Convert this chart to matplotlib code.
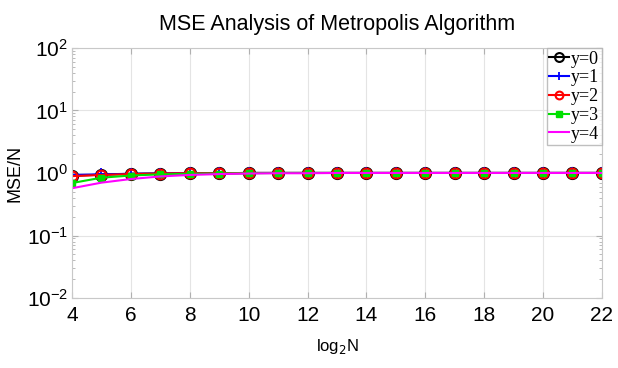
import matplotlib
matplotlib.use("Agg")
import matplotlib.pyplot as plt
from matplotlib.ticker import LogLocator, NullFormatter

plt.rcParams['font.family'] = ['Liberation Sans', 'DejaVu Sans']

# log2 of sample count
log2_n = list(range(4, 23))

# MSE/N for each y value
mse_y0 = [0.90, 0.94, 0.97, 0.98, 0.99, 0.99, 1.0, 1.0, 1.0, 1.0, 1.0, 1.0, 1.0, 1.0, 1.0, 1.0, 1.0, 1.0, 1.0]
mse_y1 = [0.93, 0.95, 0.97, 0.98, 0.99, 0.99, 1.0, 1.0, 1.0, 1.0, 1.0, 1.0, 1.0, 1.0, 1.0, 1.0, 1.0, 1.0, 1.0]
mse_y2 = [0.89, 0.93, 0.96, 0.98, 0.99, 0.99, 1.0, 1.0, 1.0, 1.0, 1.0, 1.0, 1.0, 1.0, 1.0, 1.0, 1.0, 1.0, 1.0]
mse_y3 = [0.69, 0.84, 0.91, 0.95, 0.97, 0.98, 0.99, 1.0, 1.0, 1.0, 1.0, 1.0, 1.0, 1.0, 1.0, 1.0, 1.0, 1.0, 1.0]
mse_y4 = [0.57, 0.70, 0.80, 0.88, 0.93, 0.96, 0.98, 0.99, 0.99, 1.0, 1.0, 1.0, 1.0, 1.0, 1.0, 1.0, 1.0, 1.0, 1.0]

fig = plt.figure(figsize=(6.18, 3.68), dpi=100)
ax = fig.add_axes([0.1165, 0.19, 0.8575, 0.68])

ax.plot(log2_n, mse_y0, color='black', marker='o', mfc='none', ms=8, mew=1.5, lw=1.5, label='y=0')
ax.plot(log2_n, mse_y1, color='blue', marker='+', ms=8, mew=1.3, lw=1.5, label='y=1')
ax.plot(log2_n, mse_y2, color='red', marker='o', mfc='none', ms=7, mew=1.5, lw=1.5, label='y=2')
ax.plot(log2_n, mse_y3, color='#00e000', marker='s', ms=5, mew=1.0, lw=1.5, label='y=3')
ax.plot(log2_n, mse_y4, color='magenta', lw=1.5, label='y=4')

ax.set_yscale('log')
ax.set_ylim(1e-2, 1e2)
ax.set_xlim(4, 22)
ax.set_xticks(range(4, 23, 2))
ax.yaxis.set_minor_locator(LogLocator(base=10, subs=range(2, 10)))
ax.yaxis.set_minor_formatter(NullFormatter())

ax.grid(True, which='major', color='#e4e4e4', lw=0.8)
ax.tick_params(which='both', direction='in', top=True, right=True, color='#b0b0b0')
ax.tick_params(which='major', labelsize=15, length=4, pad=3)
ax.tick_params(axis='x', which='major', pad=6)
ax.tick_params(which='minor', length=2)
for s in ax.spines.values():
    s.set_color('#c8c8c8')

ax.set_title('MSE Analysis of Metropolis Algorithm', fontsize=15.5, pad=13)
ax.set_xlabel('log$_2$N', fontsize=12, labelpad=8)
ax.set_ylabel('MSE/N', fontsize=13, labelpad=2)

ax.legend(loc='upper right', prop={'family': 'Liberation Serif', 'size': 13},
          handlelength=1.1, handletextpad=0.1, borderpad=0.15, labelspacing=0.1,
          borderaxespad=0.0, frameon=True, fancybox=False, edgecolor='#b0b0b0',
          markerscale=0.8)

fig.savefig('out.png', dpi=100)
